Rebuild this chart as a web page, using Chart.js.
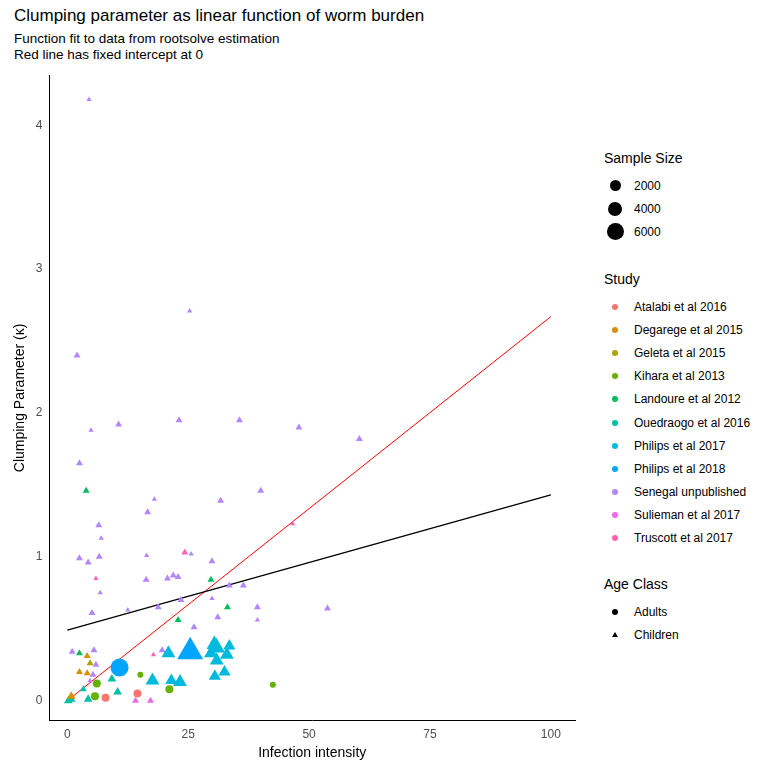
<!DOCTYPE html>
<html>
<head>
<meta charset="utf-8">
<script src="https://cdn.jsdelivr.net/npm/chart.js@4"></script>
<style>
  body { margin: 0; background: #fff; font-family: Arial, "Liberation Sans", sans-serif; }
  #wrap { position: relative; width: 768px; height: 768px; }
  #title { position: absolute; left: 14px; top: 6px; font-size: 17px; color: #000; }
  #sub { position: absolute; left: 14px; top: 31px; font-size: 13.5px; line-height: 16px; color: #000; }
  #chart { position: absolute; left: 0; top: 60px; }
  .leg { position: absolute; left: 604px; font-size: 12px; color: #000; }
  .leg h4 { margin: 0 0 8px 0; font-weight: normal; font-size: 14px; }
  .row { height: 23.2px; display: flex; align-items: center; }
  .key { width: 22px; display: flex; justify-content: center; align-items: center; margin-right: 8px; }
</style>
</head>
<body>
<div id="wrap">
  <div id="title">Clumping parameter as linear function of worm burden</div>
  <div id="sub">Function fit to data from rootsolve estimation<br>Red line has fixed intercept at 0</div>
  <canvas id="chart" width="590" height="708"></canvas>
  <div class="leg" id="legSize" style="top:150px"><h4>Sample Size</h4></div>
  <div class="leg" id="legStudy" style="top:271px"><h4>Study</h4></div>
  <div class="leg" id="legAge" style="top:576px"><h4>Age Class</h4></div>
</div>
<script>
const studies = ["Atalabi et al 2016", "Degarege et al 2015", "Geleta et al 2015", "Kihara et al 2013",
  "Landoure et al 2012", "Ouedraogo et al 2016", "Philips et al 2017", "Philips et al 2018",
  "Senegal unpublished", "Sulieman et al 2017", "Truscott et al 2017"];
const studyColors = ["#F8766D", "#DB8E00", "#AEA200", "#64B200", "#00BD5C", "#00C1A7",
  "#00BADE", "#00A5FF", "#B385FF", "#EF67EB", "#FF63B6"];

// one entry per point: study index, intensity, kappa, age (A/C), marker radius
const pStudy = [8,8,8,8,8,8,8,8,8,8, 4,8,8,8,8,8,8,10, 8,8,8,8,10,8,8,10,8,8,8,8,4,8,8,8,8,4,8,8,8,8,8,4,8,8,
  8,4,1,8,8,2,8,1,1,8,8,8,7,10,8, 6,7,6,6,6,6,6,6,6,6,6,6,6,
  5,5,5,5,5,5, 1, 3,3,3,3,3, 0,0, 9,9];
const pX = [4.5,2.0,25.3,2.5,4.9,10.6,23.1,35.6,47.9,60.4, 3.9,18.0,31.7,40.0,16.6,6.5,7.0,46.6,
  2.5,4.3,6.6,16.4,24.3,25.6,29.9,5.9,16.3,20.7,21.9,22.9,29.7,33.5,36.4,6.8,29.9,33.1,23.5,39.3,53.8,12.5,18.8,22.9,31.1,39.3,
  5.1,2.5,4.1,1.0,5.5,4.7,5.9,2.5,4.1,5.3,4.7,26.2,10.8,17.8,19.6,
  20.9,25.4,30.4,30.8,33.5,29.7,33.0,30.9,30.5,32.5,17.6,21.5,23.3,
  9.2,10.4,4.3,3.3,0.2,0.8, 0.8, 15.1,6.1,5.7,21.1,42.5, 7.9,14.5, 14.1,17.2];
const pY = [4.18,2.40,2.71,1.65,1.88,1.92,1.95,1.95,1.90,1.82, 1.46,1.40,1.39,1.46,1.31,1.22,1.13,1.23,
  0.99,0.96,1.00,1.01,1.03,1.02,0.97,0.85,0.84,0.85,0.87,0.86,0.84,0.80,0.80,0.75,0.71,0.65,0.70,0.65,0.64,0.63,0.65,0.56,0.58,0.56,
  0.61,0.33,0.31,0.34,0.35,0.26,0.25,0.20,0.19,0.18,0.14,0.51,0.23,0.32,0.35,
  0.33,0.34,0.39,0.37,0.38,0.33,0.32,0.28,0.17,0.20,0.14,0.14,0.13,
  0.15,0.06,0.01,0.08,0.00,0.01, 0.03, 0.18,0.12,0.03,0.08,0.11, 0.02,0.05, 0.00,0.00];
const pAge = "CCCCCCCCCC CCCCCCCC CCCCCCCCCCCCCCCCCCCCCCCCCC CCCCCCCCCCCCACC CCCCCCCCCCCCC CCCCCC C AAAAA AA CC".replace(/ /g, "");
const pSize = [3,4,3,4,3,4,4,4,4,4, 4,3,4,4,4,4,3,3,
  4,4,4,3,4,3,4,3,4,4,4,4,4,4,4,3,3,4,4,4,4,3,4,4,4,3,
  4,4,4,4,4,4,4,4,4,4,3,4,9,3,4,
  8,15,9,10,7,8,8,8,7,7,8,7,8,
  5,5,5,4,5,5, 5, 3,4,4,4,3, 4,4, 4,4];

// fitted lines
const fitX = [0, 100];
const fitFree = [0.49, 1.43];
const fitZero = [0, 2.67];

const datasets = studies.map((name, s) => {
  const idx = pStudy.map((v, i) => v === s ? i : -1).filter(i => i >= 0);
  return {
    type: "scatter",
    label: name,
    data: idx.map(i => ({ x: pX[i], y: pY[i] })),
    pointStyle: idx.map(i => pAge[i] === "A" ? "circle" : "triangle"),
    pointRadius: idx.map(i => pSize[i]),
    backgroundColor: studyColors[s],
    borderWidth: 0
  };
});
datasets.push({ type: "line", label: "fit", data: fitX.map((x, i) => ({ x, y: fitFree[i] })),
  borderColor: "#000", borderWidth: 1.3, pointRadius: 0 });
datasets.push({ type: "line", label: "fit0", data: fitX.map((x, i) => ({ x, y: fitZero[i] })),
  borderColor: "#ff0000", borderWidth: 1, pointRadius: 0 });

new Chart(document.getElementById("chart"), {
  type: "scatter",
  data: { datasets },
  options: {
    responsive: false,
    animation: false,
    layout: { padding: { top: 14, right: 10, left: 8, bottom: 6 } },
    plugins: { legend: { display: false }, tooltip: { enabled: false } },
    scales: {
      x: {
        type: "linear", min: -3.7, max: 105,
        grid: { display: false, drawTicks: true, tickLength: 4, color: "#333" },
        border: { color: "#000", width: 1 },
        afterBuildTicks: ax => { ax.ticks = [0, 25, 50, 75, 100].map(v => ({ value: v })); },
        ticks: { color: "#4d4d4d", font: { size: 12 } },
        title: { display: true, text: "Infection intensity", color: "#000", font: { size: 14 }, padding: 0 }
      },
      y: {
        type: "linear", min: -0.14, max: 4.35,
        grid: { display: false, drawTicks: true, tickLength: 4, color: "#333" },
        border: { color: "#000", width: 1 },
        afterBuildTicks: ax => { ax.ticks = [0, 1, 2, 3, 4].map(v => ({ value: v })); },
        ticks: { color: "#4d4d4d", font: { size: 12 } },
        title: { display: true, text: "Clumping Parameter (\u03ba)", color: "#000", font: { size: 14 }, padding: 4 }
      }
    }
  }
});

// legends
function marker(shape, color, size) {
  if (shape === "circle")
    return `<div style="width:${size}px;height:${size}px;border-radius:50%;background:${color}"></div>`;
  return `<div style="width:0;height:0;border-left:${size/2}px solid transparent;border-right:${size/2}px solid transparent;border-bottom:${size*0.85}px solid ${color}"></div>`;
}
const sizeLabels = ["2000", "4000", "6000"];
const sizeDots = [11, 14, 17];
document.getElementById("legSize").innerHTML += sizeLabels.map((l, i) =>
  `<div class="row"><div class="key">${marker("circle", "#000", sizeDots[i])}</div>${l}</div>`).join("");
document.getElementById("legStudy").innerHTML += studies.map((l, i) =>
  `<div class="row"><div class="key">${marker("circle", studyColors[i], 6)}</div>${l}</div>`).join("");
document.getElementById("legAge").innerHTML += ["Adults", "Children"].map((l, i) =>
  `<div class="row"><div class="key">${marker(i ? "triangle" : "circle", "#000", 6)}</div>${l}</div>`).join("");
</script>
</body>
</html>
